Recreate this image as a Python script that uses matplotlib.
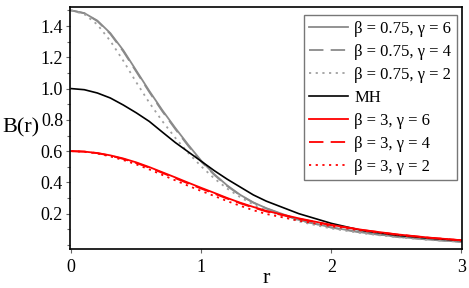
import matplotlib
matplotlib.use("Agg")
import matplotlib.pyplot as plt
from matplotlib.ticker import MultipleLocator

r = [0.0, 0.1, 0.2, 0.3, 0.4, 0.5, 0.6, 0.7, 0.8, 0.9, 1.0, 1.1, 1.2, 1.3, 1.4, 1.5,
     1.75, 2.0, 2.25, 2.5, 2.75, 3.0]

b075_g6 = [1.500, 1.483, 1.435, 1.355, 1.245, 1.115, 0.985, 0.862, 0.748, 0.640, 0.538,
           0.452, 0.380, 0.320, 0.272, 0.235, 0.160, 0.112, 0.078, 0.053, 0.034, 0.020]
b075_g4 = [1.500, 1.482, 1.432, 1.350, 1.238, 1.108, 0.978, 0.855, 0.741, 0.633, 0.532,
           0.448, 0.376, 0.317, 0.270, 0.233, 0.158, 0.111, 0.077, 0.052, 0.034, 0.020]
b075_g2 = [1.500, 1.476, 1.410, 1.305, 1.178, 1.040, 0.910, 0.792, 0.685, 0.588, 0.502,
           0.425, 0.360, 0.305, 0.258, 0.220, 0.150, 0.105, 0.073, 0.050, 0.032, 0.020]
mh = [1.000, 0.993, 0.972, 0.940, 0.895, 0.845, 0.790, 0.722, 0.655, 0.595, 0.535,
      0.475, 0.420, 0.370, 0.320, 0.280, 0.200, 0.138, 0.090, 0.062, 0.043, 0.028]
b3_g6 = [0.600, 0.597, 0.588, 0.573, 0.553, 0.528, 0.498, 0.465, 0.432, 0.398, 0.365,
         0.333, 0.300, 0.270, 0.243, 0.218, 0.170, 0.128, 0.095, 0.068, 0.047, 0.030]
b3_g4 = [0.600, 0.597, 0.587, 0.571, 0.550, 0.524, 0.494, 0.461, 0.427, 0.393, 0.360,
         0.328, 0.296, 0.266, 0.239, 0.214, 0.167, 0.126, 0.094, 0.067, 0.046, 0.030]
b3_g2 = [0.600, 0.596, 0.585, 0.566, 0.543, 0.515, 0.483, 0.448, 0.413, 0.378, 0.345,
         0.313, 0.280, 0.250, 0.222, 0.198, 0.155, 0.120, 0.090, 0.065, 0.045, 0.029]

labels = ["β = 0.75, γ = 6", "β = 0.75, γ = 4", "β = 0.75, γ = 2", "MH",
          "β = 3, γ = 6", "β = 3, γ = 4", "β = 3, γ = 2"]
x_ticks = [0, 1, 2, 3]
y_ticks = [0.2, 0.4, 0.6, 0.8, 1.0, 1.2, 1.4]

plt.rcParams['font.family'] = ['Liberation Serif', 'DejaVu Serif']

fig = plt.figure(figsize=(4.69, 2.88), dpi=100)
ax = fig.add_axes([70/469, 1-249/288, 392/469, 242/288])

gray = '#8a8a8a'
red = '#ff0000'
lw = 1.3
ax.plot(r, b075_g6, color=gray, lw=lw, ls='-', label=labels[0])
ax.plot(r, b075_g4, color=gray, lw=lw, ls=(0, (8, 4)), label=labels[1])
ax.plot(r, b075_g2, color='#a0a0a0', lw=lw, ls=(0, (1.2, 2.5)), label=labels[2])
ax.plot(r, mh, color='black', lw=1.2, ls='-', label=labels[3])
ax.plot(r, b3_g6, color=red, lw=lw, ls='-', label=labels[4])
ax.plot(r, b3_g4, color=red, lw=lw, ls=(0, (8, 4)), label=labels[5])
ax.plot(r, b3_g2, color=red, lw=lw, ls=(0, (1.2, 2.5)), label=labels[6])

ax.set_xlim(-0.01, 3.005)
ax.set_ylim(-0.026, 1.522)
ax.set_xticks(x_ticks)
ax.set_xticklabels([str(t) for t in x_ticks])
ax.set_yticks(y_ticks)
ax.set_yticklabels([f"{t:.1f}" for t in y_ticks])
ax.yaxis.set_minor_locator(MultipleLocator(0.1))
ax.tick_params(axis='both', which='major', direction='out', length=3, width=0.8,
               labelsize=13, color='#666666', pad=2)
ax.tick_params(axis='x', which='major', pad=4)
ax.tick_params(axis='y', which='minor', direction='out', length=2, width=0.8, color='#666666')
for s in ax.spines.values():
    s.set_linewidth(1.2)
    s.set_color('black')

ax.set_xlabel('r', fontsize=16, labelpad=-5)
ax.set_ylabel('B(r)', fontsize=16, rotation=0, ha='center', va='center')
ax.yaxis.set_label_coords(-0.124, 0.5)

leg = ax.legend(loc='upper right', bbox_to_anchor=(0.988, 0.968), borderaxespad=0,
                fontsize=12, frameon=True, fancybox=False, edgecolor='#555555',
                handlelength=2.3, labelspacing=0.42, borderpad=0.35, handletextpad=0.4)
leg.get_frame().set_linewidth(1.0)

fig.savefig('out.png', dpi=100)
